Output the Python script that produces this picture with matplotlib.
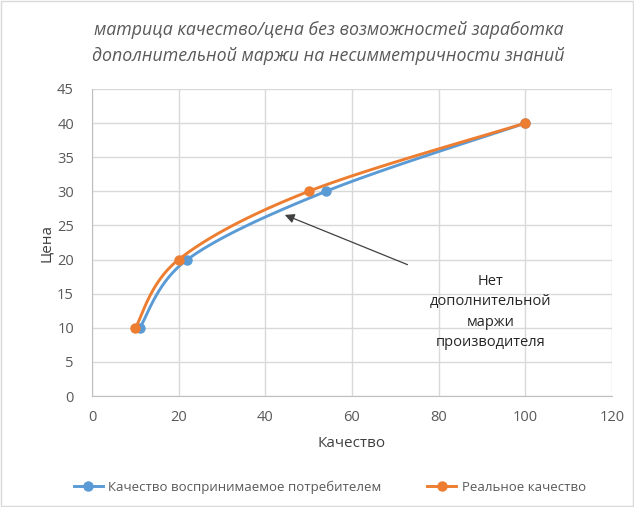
import numpy as np
import matplotlib.pyplot as plt

plt.rcParams['font.family'] = ['Open Sans', 'DejaVu Sans']

# perceived quality vs real quality, price levels
perceived_x = [11, 22, 54, 100]
perceived_y = [10, 20, 30, 40]
real_x = [10, 20, 50, 100]
real_y = [10, 20, 30, 40]

title = 'матрица качество/цена без возможностей заработка\nдополнительной маржи на несимметричности знаний'
note = 'Нет\nдополнительной\nмаржи\nпроизводителя'
x_ticks = [0, 20, 40, 60, 80, 100, 120]
y_ticks = [0, 5, 10, 15, 20, 25, 30, 35, 40, 45]

blue = '#5b9bd5'
orange = '#ed7d31'


def smooth(xs, ys, n=40):
    # Catmull-Rom through the points, like a smoothed office line
    p = np.column_stack([xs, ys]).astype(float)
    p = np.vstack([p[0], p, p[-1]])
    out = []
    for i in range(1, len(p) - 2):
        p0, p1, p2, p3 = p[i - 1], p[i], p[i + 1], p[i + 2]
        t = np.linspace(0, 1, n)[:, None]
        seg = 0.5 * (2 * p1 + (-p0 + p2) * t + (2 * p0 - 5 * p1 + 4 * p2 - p3) * t ** 2
                     + (-p0 + 3 * p1 - 3 * p2 + p3) * t ** 3)
        out.append(seg)
    c = np.vstack(out)
    return c[:, 0], c[:, 1]


fig = plt.figure(figsize=(6.34, 5.07), dpi=100)
ax = fig.add_axes([92 / 634, 1 - 396 / 507, 520 / 634, 307 / 507])

for xs, ys, col, lab in [(perceived_x, perceived_y, blue, 'Качество воспринимаемое потребителем'),
                         (real_x, real_y, orange, 'Реальное качество')]:
    sx, sy = smooth(xs, ys)
    ax.plot(sx, sy, color=col, lw=2.1, solid_capstyle='round')
    ax.plot(xs, ys, 'o', color=col, ms=6.5)
    ax.plot([], [], color=col, lw=2.1, marker='o', ms=6.5, label=lab)

ax.set_xlim(0, 120)
ax.set_ylim(0, 45)
ax.set_xticks(x_ticks)
ax.set_yticks(y_ticks)
ax.grid(True, color='#d9d9d9', lw=1)
ax.set_axisbelow(True)
for s in ax.spines.values():
    s.set_visible(False)
ax.spines['left'].set_visible(True)
ax.spines['bottom'].set_visible(True)
ax.spines['left'].set_color('#bfbfbf')
ax.spines['bottom'].set_color('#bfbfbf')
ax.tick_params(length=0, labelsize=10.5, labelcolor='#595959')
ax.tick_params(axis='x', pad=10)
ax.tick_params(axis='y', pad=13)

ax.set_xlabel('Качество', fontsize=11, color='#404040', labelpad=8)
ax.set_ylabel('Цена', fontsize=11, color='#404040', labelpad=2)

ax.annotate('', xy=(43.9, 26.7), xytext=(73.4, 19.1),
            arrowprops=dict(arrowstyle='-|>', color='#404040', lw=0.9, mutation_scale=14))
ax.text(92.0, 12.3, note, ha='center', va='center', fontsize=10.5, color='#262626',
        linespacing=1.5)

fig.text(0.518, 1 - 43 / 507, title, ha='center', va='center', fontsize=12.8,
         style='italic', color='#595959', linespacing=1.5)

fig.legend(loc='center', bbox_to_anchor=(0.52, 1 - 487 / 507), ncol=2, frameon=False,
           fontsize=9.5, labelcolor='#595959', handlelength=2.2, columnspacing=3.5,
           handletextpad=0.4)

# thin frame round the whole chart
fig.patches.append(plt.Rectangle((0.002, 0.002), 0.996, 0.996, transform=fig.transFigure,
                                 fill=False, edgecolor='#d9d9d9', lw=1))

fig.savefig('out.png', dpi=100)
